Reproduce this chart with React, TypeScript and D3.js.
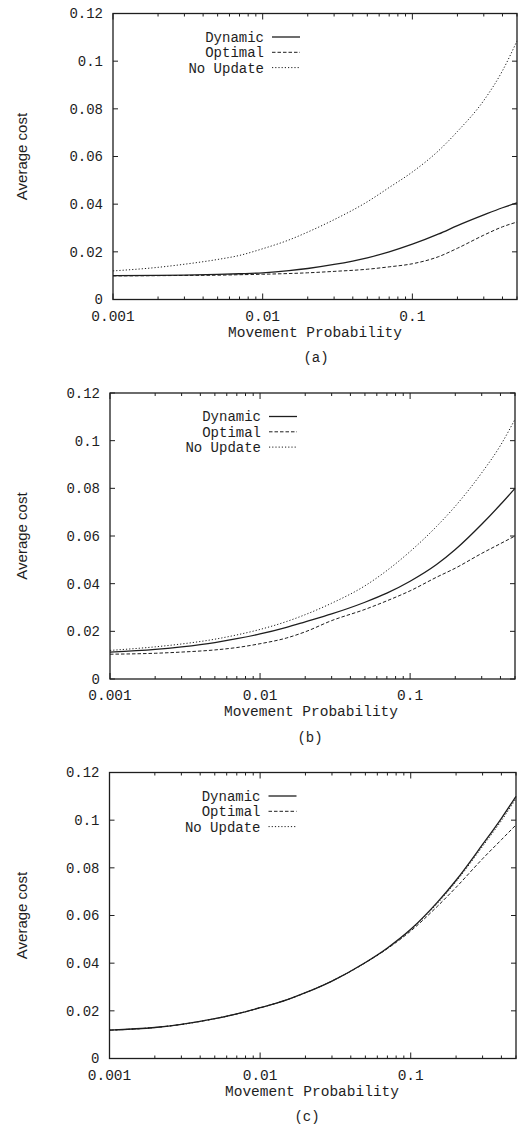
import * as d3 from "d3";
import React from "react";

// movement probabilities where the curves were read
const probability = [0.001, 0.002, 0.003, 0.005, 0.007, 0.01, 0.015, 0.02, 0.03, 0.05, 0.07, 0.1, 0.15, 0.2, 0.3, 0.4, 0.5];

// panel (a)
const dynamicA = [0.0100, 0.0101, 0.0102, 0.0105, 0.0108, 0.0112, 0.0121, 0.0130, 0.0147, 0.0175, 0.0200, 0.0232, 0.0275, 0.0310, 0.0355, 0.0385, 0.0405];
const optimalA = [0.0099, 0.0100, 0.0101, 0.0102, 0.0104, 0.0106, 0.0109, 0.0112, 0.0118, 0.0127, 0.0137, 0.0150, 0.0180, 0.0215, 0.0270, 0.0305, 0.0325];
const noUpdateA = [0.0120, 0.0135, 0.0148, 0.0168, 0.0185, 0.0213, 0.0250, 0.0283, 0.0335, 0.0410, 0.0470, 0.0535, 0.0625, 0.0705, 0.0835, 0.0960, 0.1085];

// panel (b)
const dynamicB = [0.0113, 0.0124, 0.0135, 0.0153, 0.0169, 0.0189, 0.0217, 0.0240, 0.0273, 0.0322, 0.0360, 0.0410, 0.0480, 0.0543, 0.0649, 0.0732, 0.0800];
const optimalB = [0.0104, 0.0108, 0.0113, 0.0122, 0.0132, 0.0148, 0.0172, 0.0198, 0.0245, 0.0292, 0.0328, 0.0370, 0.0427, 0.0465, 0.0527, 0.0568, 0.0600];
const noUpdateB = [0.0120, 0.0135, 0.0147, 0.0167, 0.0185, 0.0208, 0.0241, 0.0270, 0.0318, 0.0391, 0.0455, 0.0535, 0.0640, 0.0725, 0.0865, 0.0980, 0.1090];

// panel (c)
const dynamicC = [0.0119, 0.0130, 0.0143, 0.0167, 0.0187, 0.0213, 0.0246, 0.0276, 0.0325, 0.0403, 0.0464, 0.0542, 0.0655, 0.0748, 0.0898, 0.1008, 0.1100];
const optimalC = [0.0119, 0.0130, 0.0143, 0.0167, 0.0187, 0.0213, 0.0246, 0.0276, 0.0325, 0.0402, 0.0461, 0.0535, 0.0638, 0.0718, 0.0838, 0.0918, 0.0980];
const noUpdateC = [0.0119, 0.0130, 0.0143, 0.0167, 0.0187, 0.0213, 0.0246, 0.0276, 0.0325, 0.0402, 0.0462, 0.0540, 0.0650, 0.0742, 0.0890, 0.0998, 0.1090];

const seriesNames = ["Dynamic", "Optimal", "No Update"];
const dashes = ["", "3.5,2", "1.2,2"];
const widths = [1.3, 1, 1];

const yTickValues = [0, 0.02, 0.04, 0.06, 0.08, 0.1, 0.12];
const yTickLabels = ["0", "0.02", "0.04", "0.06", "0.08", "0.1", "0.12"];
const xTickValues = [0.001, 0.01, 0.1];
const xTickLabels = ["0.001", "0.01", "0.1"];

const panels = [
  { caption: "(a)", series: [dynamicA, optimalA, noUpdateA], left: 113, right: 517, top: 13.5, bottom: 299.5, titleX: 315, capX: 316 },
  { caption: "(b)", series: [dynamicB, optimalB, noUpdateB], left: 110, right: 515, top: 393, bottom: 679, titleX: 311, capX: 310 },
  { caption: "(c)", series: [dynamicC, optimalC, noUpdateC], left: 109.5, right: 516, top: 772.5, bottom: 1058.5, titleX: 312, capX: 307 },
];

const ink = "#1e1e1e";
const mono = "'Liberation Mono', 'DejaVu Sans Mono', monospace";
const sans = "'Liberation Sans', Arial, sans-serif";

function Panel({ p }: { p: (typeof panels)[number] }) {
  const x = d3.scaleLog().domain([0.001, 0.5]).range([p.left, p.right]);
  const y = d3.scaleLinear().domain([0, 0.12]).range([p.bottom, p.top]);

  const line = d3
    .line<[number, number]>()
    .x((d) => x(d[0]))
    .y((d) => y(d[1]))
    .curve(d3.curveMonotoneX);

  // minor ticks 2..9 of each decade
  const minor: number[] = [];
  [0.001, 0.01, 0.1].forEach((dec) => {
    for (let m = 2; m <= 9; m++) if (m * dec <= 0.5) minor.push(m * dec);
  });

  const legendRight = p.left + 151;
  const legendTop = p.top + 23.5;

  return (
    <g>
      {/* frame */}
      <rect x={p.left} y={p.top} width={p.right - p.left} height={p.bottom - p.top} fill="none" stroke={ink} strokeWidth={1.3} />

      {/* y ticks, left and right */}
      {yTickValues.map((v, i) => (
        <g key={"y" + i}>
          <line x1={p.left} x2={p.left + 5} y1={y(v)} y2={y(v)} stroke={ink} />
          <line x1={p.right} x2={p.right - 5} y1={y(v)} y2={y(v)} stroke={ink} />
          <text x={p.left - 10} y={y(v)} dy="0.35em" textAnchor="end" fontFamily={mono} fontSize={14} fill={ink}>
            {yTickLabels[i]}
          </text>
        </g>
      ))}

      {/* x ticks, bottom and top */}
      {xTickValues.map((v, i) => (
        <g key={"x" + i}>
          <line x1={x(v)} x2={x(v)} y1={p.bottom} y2={p.bottom - 6} stroke={ink} />
          <line x1={x(v)} x2={x(v)} y1={p.top} y2={p.top + 6} stroke={ink} />
          <text x={x(v)} y={p.bottom + 16} dy="0.35em" textAnchor="middle" fontFamily={mono} fontSize={14.5} fill={ink}>
            {xTickLabels[i]}
          </text>
        </g>
      ))}
      {minor.map((v, i) => (
        <g key={"m" + i}>
          <line x1={x(v)} x2={x(v)} y1={p.bottom} y2={p.bottom - 3} stroke={ink} />
          <line x1={x(v)} x2={x(v)} y1={p.top} y2={p.top + 3} stroke={ink} />
        </g>
      ))}

      {/* axis titles */}
      <text x={p.titleX} y={p.bottom + 32} dy="0.35em" textAnchor="middle" fontFamily={mono} fontSize={14.5} fill={ink}>
        Movement Probability
      </text>
      <text
        transform={`translate(22,${(p.top + p.bottom) / 2}) rotate(-90)`}
        dy="0.35em"
        textAnchor="middle"
        fontFamily={sans}
        fontSize={15}
        fill={ink}
      >
        Average cost
      </text>
      <text x={p.capX} y={p.bottom + 58} dy="0.35em" textAnchor="middle" fontFamily={mono} fontSize={14} fill={ink}>
        {p.caption}
      </text>

      {/* curves */}
      {p.series.map((vals, si) => (
        <path
          key={"s" + si}
          d={line(probability.map((pr, k) => [pr, vals[k]] as [number, number])) || ""}
          fill="none"
          stroke={ink}
          strokeWidth={widths[si]}
          strokeDasharray={dashes[si]}
        />
      ))}

      {/* legend */}
      {seriesNames.map((name, si) => (
        <g key={"l" + si}>
          <text x={legendRight} y={legendTop + si * 15.3} dy="0.35em" textAnchor="end" fontFamily={mono} fontSize={14} fill={ink}>
            {name}
          </text>
          <line
            x1={legendRight + 8}
            x2={legendRight + 36}
            y1={legendTop + si * 15.3}
            y2={legendTop + si * 15.3}
            stroke={ink}
            strokeWidth={widths[si]}
            strokeDasharray={dashes[si]}
          />
        </g>
      ))}
    </g>
  );
}

export default function App() {
  return (
    <svg width={518} height={1125} style={{ position: "absolute", left: 0, top: 0, background: "#fff" }}>
      {panels.map((p) => (
        <Panel key={p.caption} p={p} />
      ))}
    </svg>
  );
}
